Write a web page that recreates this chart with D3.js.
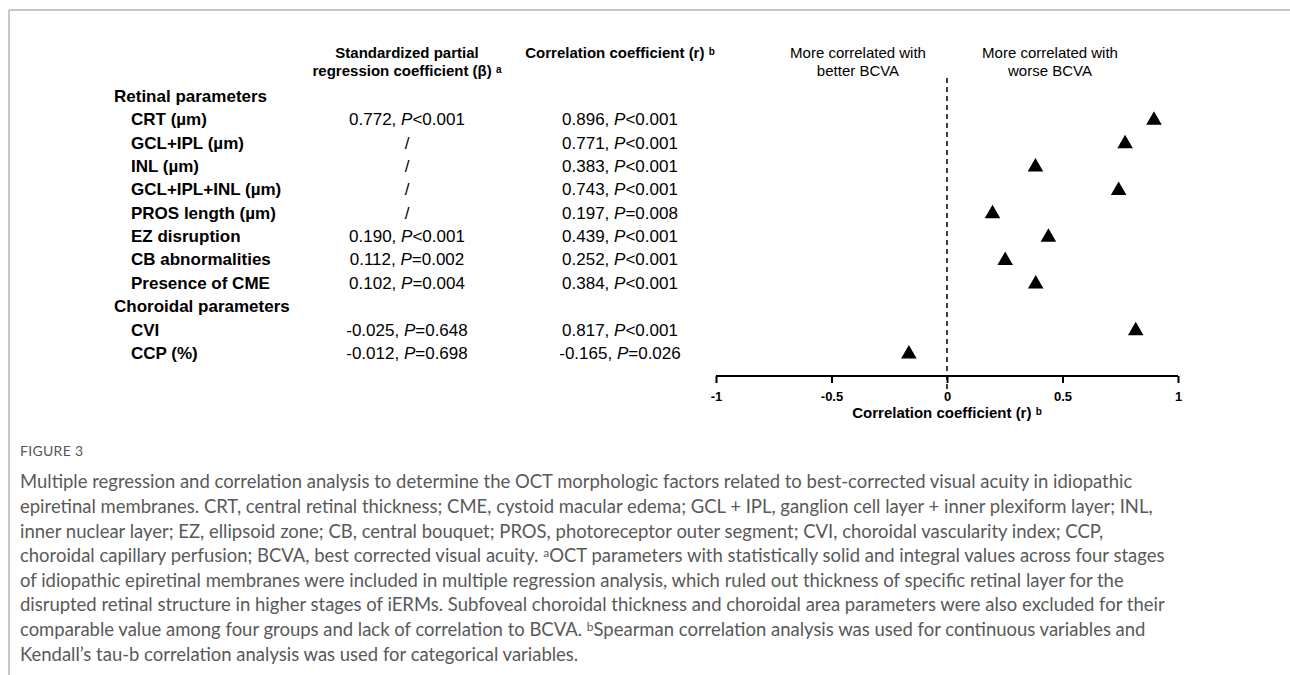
<!DOCTYPE html>
<html>
<head>
<meta charset="utf-8">
<script src="https://cdn.jsdelivr.net/npm/d3@7"></script>
<style>
  body { margin: 0; background: #fff; }
  svg { display: block; }
</style>
</head>
<body>
<script>
// Rows of the table / forest plot
const rowLabels = ['Retinal parameters', 'CRT (µm)', 'GCL+IPL (µm)', 'INL (µm)', 'GCL+IPL+INL (µm)',
  'PROS length (µm)', 'EZ disruption', 'CB abnormalities', 'Presence of CME',
  'Choroidal parameters', 'CVI', 'CCP (%)'];
const rowIsGroup = [true, false, false, false, false, false, false, false, false, true, false, false];

// Standardized partial regression coefficient (beta)
const betaValues = [null, 0.772, null, null, null, null, 0.190, 0.112, 0.102, null, -0.025, -0.012];
const betaP = [null, '<0.001', null, null, null, null, '<0.001', '=0.002', '=0.004', null, '=0.648', '=0.698'];

// Correlation coefficient (r)
const rValues = [null, 0.896, 0.771, 0.383, 0.743, 0.197, 0.439, 0.252, 0.384, null, 0.817, -0.165];
const rP = [null, '<0.001', '<0.001', '<0.001', '<0.001', '=0.008', '<0.001', '<0.001', '<0.001', null, '<0.001', '=0.026'];

const xTicks = [-1, -0.5, 0, 0.5, 1];

const captionTitle = 'FIGURE 3';
const captionLines = [
  'Multiple regression and correlation analysis to determine the OCT morphologic factors related to best-corrected visual acuity in idiopathic',
  'epiretinal membranes. CRT, central retinal thickness; CME, cystoid macular edema; GCL + IPL, ganglion cell layer + inner plexiform layer; INL,',
  'inner nuclear layer; EZ, ellipsoid zone; CB, central bouquet; PROS, photoreceptor outer segment; CVI, choroidal vascularity index; CCP,',
  'choroidal capillary perfusion; BCVA, best corrected visual acuity. ^aOCT parameters with statistically solid and integral values across four stages',
  'of idiopathic epiretinal membranes were included in multiple regression analysis, which ruled out thickness of specific retinal layer for the',
  'disrupted retinal structure in higher stages of iERMs. Subfoveal choroidal thickness and choroidal area parameters were also excluded for their',
  'comparable value among four groups and lack of correlation to BCVA. ^bSpearman correlation analysis was used for continuous variables and',
  'Kendall\u2019s tau-b correlation analysis was used for categorical variables.'
];

const width = 1290;
const height = 675;
const chartFont = '"Liberation Sans", Arial, sans-serif';
const captionFont = 'Lato, "Open Sans", sans-serif';

const svg = d3.select('body')
  .append('svg')
  .attr('width', width)
  .attr('height', height);

// Frame lines
svg.append('line')
  .attr('x1', 9).attr('x2', width).attr('y1', 10).attr('y2', 10)
  .attr('stroke', '#b4b4b4').attr('stroke-width', 1.5);
svg.append('line')
  .attr('x1', 9).attr('x2', 9).attr('y1', 10).attr('y2', height)
  .attr('stroke', '#b4b4b4').attr('stroke-width', 1.5);

// Scales
const yScale = d3.scalePoint()
  .domain(d3.range(rowLabels.length))
  .range([96, 353]);

const xScale = d3.scaleLinear()
  .domain([-1, 1])
  .range([716, 1178]);

const col2X = 407;
const col3X = 620;

// Column headers
const headers = svg.append('g')
  .attr('font-family', chartFont)
  .attr('font-size', 15)
  .attr('font-weight', 'bold')
  .attr('fill', '#000')
  .attr('text-anchor', 'middle');

headers.append('text').attr('x', col2X).attr('y', 53).attr('dy', '0.35em').text('Standardized partial');
const h2 = headers.append('text').attr('x', col2X).attr('y', 71).attr('dy', '0.35em');
h2.append('tspan').text('regression coefficient (β) ');
h2.append('tspan').attr('font-size', 10).attr('baseline-shift', '35%').text('a');

const h3 = headers.append('text').attr('x', col3X).attr('y', 53).attr('dy', '0.35em');
h3.append('tspan').text('Correlation coefficient (r) ');
h3.append('tspan').attr('font-size', 10).attr('baseline-shift', '35%').text('b');

const dirLabels = svg.append('g')
  .attr('font-family', chartFont)
  .attr('font-size', 15)
  .attr('fill', '#000')
  .attr('text-anchor', 'middle');
dirLabels.append('text').attr('x', 858).attr('y', 53).attr('dy', '0.35em').text('More correlated with');
dirLabels.append('text').attr('x', 858).attr('y', 71).attr('dy', '0.35em').text('better BCVA');
dirLabels.append('text').attr('x', 1050).attr('y', 53).attr('dy', '0.35em').text('More correlated with');
dirLabels.append('text').attr('x', 1050).attr('y', 71).attr('dy', '0.35em').text('worse BCVA');

// Row labels
svg.append('g')
  .attr('font-family', chartFont)
  .attr('font-size', 17)
  .attr('font-weight', 'bold')
  .selectAll('text')
  .data(rowLabels)
  .enter()
  .append('text')
  .attr('x', (d, i) => rowIsGroup[i] ? 114 : 131)
  .attr('y', (d, i) => yScale(i))
  .attr('dy', '0.35em')
  .text((d) => d);

// Value columns
const addValueColumn = (values, pValues, cx) => {
  const g = svg.append('g')
    .attr('font-family', chartFont)
    .attr('font-size', 17)
    .attr('text-anchor', 'middle');
  values.forEach((v, i) => {
    if (rowIsGroup[i]) return;
    const t = g.append('text').attr('x', cx).attr('y', yScale(i)).attr('dy', '0.35em');
    if (v === null) {
      t.append('tspan').text('/');
      return;
    }
    t.append('tspan').text(v.toFixed(3) + ', ');
    t.append('tspan').attr('font-style', 'italic').text('P');
    t.append('tspan').text(pValues[i]);
  });
};

addValueColumn(betaValues, betaP, col2X);
addValueColumn(rValues, rP, col3X);

// Dashed zero line
svg.append('line')
  .attr('x1', xScale(0)).attr('x2', xScale(0))
  .attr('y1', 78).attr('y2', 393)
  .attr('stroke', '#000')
  .attr('stroke-width', 1.5)
  .attr('stroke-dasharray', '5,4');

// Points
const points = rValues.map((v, i) => [v, i]).filter((d) => d[0] !== null);
svg.append('g')
  .selectAll('path')
  .data(points)
  .enter()
  .append('path')
  .attr('d', d3.symbol().type(d3.symbolTriangle).size(105))
  .attr('transform', (d) => 'translate(' + xScale(d[0]) + ',' + (yScale(d[1]) + 1) + ')')
  .attr('fill', '#000');

// X axis
const xAxis = d3.axisBottom(xScale)
  .tickValues(xTicks)
  .tickSize(7)
  .tickPadding(9)
  .tickFormat((d) => String(d));

const axisG = svg.append('g')
  .attr('transform', 'translate(0,376)')
  .call(xAxis);
axisG.select('.domain')
  .attr('d', 'M' + xScale(-1) + ',0H' + xScale(1))
  .attr('stroke-width', 2);
axisG.selectAll('.tick line').attr('stroke-width', 2);
axisG.selectAll('.tick text')
  .attr('font-family', chartFont)
  .attr('font-size', 13)
  .attr('font-weight', 'bold')
  .attr('fill', '#000');

const axisTitle = svg.append('text')
  .attr('x', xScale(0))
  .attr('y', 413)
  .attr('dy', '0.35em')
  .attr('text-anchor', 'middle')
  .attr('font-family', chartFont)
  .attr('font-size', 15)
  .attr('font-weight', 'bold');
axisTitle.append('tspan').text('Correlation coefficient (r) ');
axisTitle.append('tspan').attr('font-size', 10).attr('baseline-shift', '35%').text('b');

// Caption
svg.append('text')
  .attr('x', 20)
  .attr('y', 451)
  .attr('dy', '0.35em')
  .attr('font-family', captionFont)
  .attr('font-size', 14)
  .attr('letter-spacing', 0.3)
  .attr('fill', '#555')
  .text(captionTitle);

const captionG = svg.append('g')
  .attr('font-family', captionFont)
  .attr('font-size', 18)
  .attr('fill', '#595959');

captionLines.forEach((line, i) => {
  const t = captionG.append('text')
    .attr('x', 20)
    .attr('y', 482 + i * 24.6)
    .attr('dy', '0.35em');
  const parts = line.split(/\^([ab])/);
  parts.forEach((p, j) => {
    if (j % 2 === 1) {
      t.append('tspan').attr('font-size', 12).attr('baseline-shift', '40%').text(p);
    } else if (p.length) {
      t.append('tspan').text(p);
    }
  });
});

// Fit caption width to the longest line (line 4 ends near x=1165)
const longest = captionG.selectAll('text').nodes()[3];
const w = longest.getComputedTextLength();
const fs = 18 * 1145 / w;
captionG.attr('font-size', fs);
</script>
</body>
</html>
